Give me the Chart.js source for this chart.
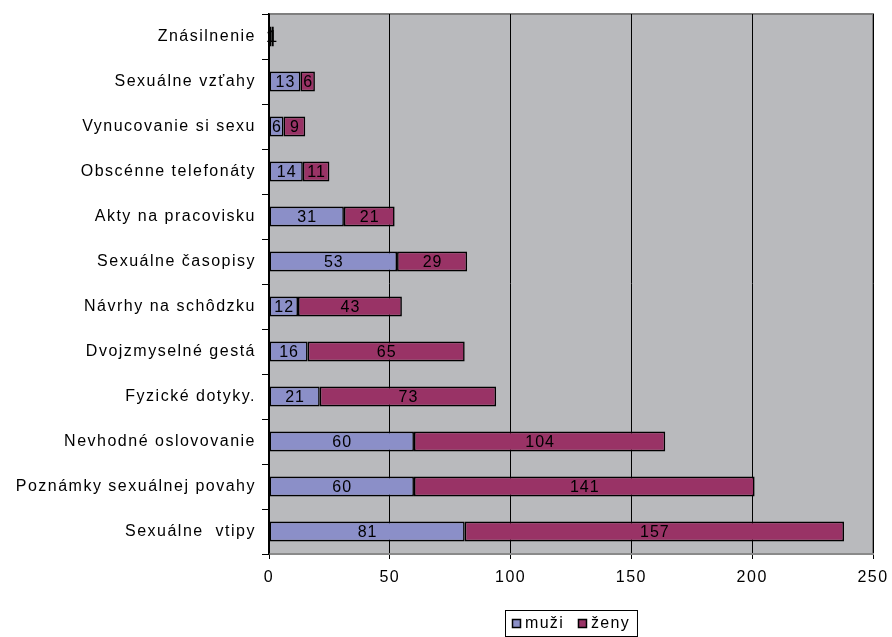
<!DOCTYPE html>
<html>
<head>
<meta charset="utf-8">
<script src="https://cdn.jsdelivr.net/npm/chart.js@4/dist/chart.umd.min.js"></script>
<style>
  html, body { margin: 0; padding: 0; background: #ffffff; }
  #wrap { width: 892px; height: 637px; position: relative; }
</style>
</head>
<body>
<div id="wrap"><canvas id="c" width="892" height="637"></canvas></div>
<script>
// Categories (top to bottom)
const categories = [
  'Znásilnenie',
  'Sexuálne vzťahy',
  'Vynucovanie si sexu',
  'Obscénne telefonáty',
  'Akty na pracovisku',
  'Sexuálne časopisy',
  'Návrhy na schôdzku',
  'Dvojzmyselné gestá',
  'Fyzické dotyky.',
  'Nevhodné oslovovanie',
  'Poznámky sexuálnej povahy',
  'Sexuálne  vtipy'
];
const muzi = [1, 13, 6, 14, 31, 53, 12, 16, 21, 60, 60, 81];
const zeny = [1, 6, 9, 11, 21, 29, 43, 65, 73, 104, 141, 157];
const xTicks = [0, 50, 100, 150, 200, 250];
const seriesNames = ['muži', 'ženy'];

const FONT = '"Liberation Sans", Arial, sans-serif';
const COL_M = '#8b8fc8';
const COL_Z = '#993366';

// Gray plot background with frame
const plotBg = {
  id: 'plotBg',
  beforeDraw(chart) {
    const { ctx, chartArea: a } = chart;
    ctx.save();
    ctx.fillStyle = '#b9babd';
    ctx.fillRect(a.left, a.top, a.right - a.left, a.bottom - a.top);
    ctx.strokeStyle = '#7f7f7f';
    ctx.lineWidth = 2;
    ctx.beginPath();
    ctx.moveTo(a.left, a.top);
    ctx.lineTo(a.right, a.top);
    ctx.lineTo(a.right, a.bottom);
    ctx.stroke();
    ctx.restore();
    chart.ctx.letterSpacing = '1.5px';
  }
};

// Value labels centred in each bar segment
const valueLabels = {
  id: 'valueLabels',
  afterDatasetsDraw(chart) {
    const { ctx } = chart;
    ctx.save();
    ctx.letterSpacing = '1px';
    ctx.font = '16px ' + FONT;
    ctx.fillStyle = '#000';
    ctx.textAlign = 'center';
    ctx.textBaseline = 'middle';
    chart.data.datasets.forEach((ds, di) => {
      const meta = chart.getDatasetMeta(di);
      meta.data.forEach((bar, i) => {
        const v = ds.data[i];
        if (!v) return;
        const x0 = bar.base, x1 = bar.x;
        ctx.fillText(String(v), (x0 + x1) / 2 + 0.5, bar.y + 1);
      });
    });
    ctx.restore();
  }
};

// Boxed legend centred under the plot area
const boxLegend = {
  id: 'boxLegend',
  afterDraw(chart) {
    const { ctx, chartArea: a } = chart;
    ctx.save();
    ctx.letterSpacing = '1.3px';
    ctx.font = '16px ' + FONT;
    const items = chart.data.datasets.map(d => ({ label: d.label, color: d.backgroundColor }));
    const sw = 9, gap = 4, itemGap = 14, padX = 7;
    const widths = items.map(it => ctx.measureText(it.label).width);
    let total = padX * 2;
    items.forEach((it, i) => { total += sw + gap + widths[i] + (i ? itemGap : 0); });
    const h = 26;
    const cx = (a.left + a.right) / 2;
    const left = Math.round(cx - total / 2), top = 610;
    ctx.fillStyle = '#fff';
    ctx.fillRect(left, top, total, h);
    ctx.strokeStyle = '#000';
    ctx.lineWidth = 1;
    ctx.strokeRect(left + 0.5, top + 0.5, total, h);
    let x = left + padX;
    items.forEach((it, i) => {
      if (i) x += itemGap;
      ctx.fillStyle = it.color;
      ctx.fillRect(x, top + 9, sw, sw);
      ctx.strokeStyle = '#000';
      ctx.lineWidth = 1.5;
      ctx.strokeRect(x + 0.5, top + 9.5, sw - 1, sw - 1);
      x += sw + gap;
      ctx.fillStyle = '#000';
      ctx.textBaseline = 'middle';
      ctx.textAlign = 'left';
      ctx.fillText(it.label, x, top + h / 2 + 1);
      x += widths[i];
    });
    ctx.restore();
  }
};

new Chart(document.getElementById('c'), {
  type: 'bar',
  data: {
    labels: categories,
    datasets: [
      { label: seriesNames[0], data: muzi, backgroundColor: COL_M, borderColor: '#000', borderWidth: 1.6, borderSkipped: false },
      { label: seriesNames[1], data: zeny, backgroundColor: COL_Z, borderColor: '#000', borderWidth: 1.6, borderSkipped: false }
    ]
  },
  options: {
    indexAxis: 'y',
    responsive: false,
    animation: false,
    devicePixelRatio: 1,
    layout: { padding: { left: 0, right: 19, top: 14, bottom: 0 } },
    datasets: { bar: { categoryPercentage: 0.44, barPercentage: 1 } },
    plugins: {
      legend: { display: false },
      tooltip: { enabled: false }
    },
    scales: {
      x: {
        stacked: true,
        min: 0,
        max: 250,
        afterBuildTicks(axis) { axis.ticks = xTicks.map(v => ({ value: v })); },
        afterFit(axis) { axis.height = 83; axis.paddingRight = 0; axis.paddingLeft = 0; },
        grid: {
          color: '#000',
          lineWidth: 1,
          drawTicks: true,
          tickLength: 5,
          tickColor: '#000'
        },
        border: { display: true, color: '#8a8a8a', width: 2 },
        ticks: {
          color: '#000',
          font: { family: FONT, size: 16 },
          padding: 9,
          maxRotation: 0
        }
      },
      y: {
        stacked: true,
        afterFit(axis) { axis.width = 269; axis.paddingTop = 0; axis.paddingBottom = 0; },
        grid: {
          offset: true,
          drawOnChartArea: false,
          drawTicks: true,
          tickLength: 7,
          tickColor: '#000'
        },
        border: { display: true, color: '#000', width: 1.5 },
        ticks: {
          color: '#000',
          font: { family: FONT, size: 16 },
          padding: 6,
          autoSkip: false
        }
      }
    }
  },
  plugins: [plotBg, valueLabels, boxLegend]
});
</script>
</body>
</html>
